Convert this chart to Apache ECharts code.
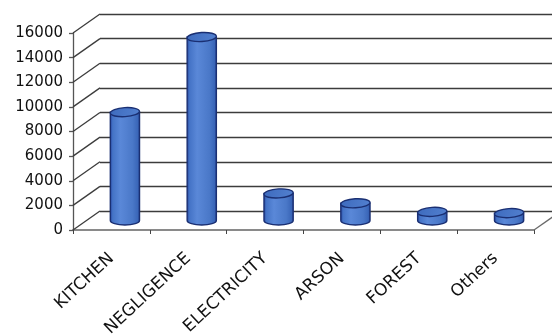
<!DOCTYPE html>
<html>
<head>
<meta charset="utf-8">
<script src="https://cdn.jsdelivr.net/npm/echarts@6/dist/echarts.min.js"></script>
<style>
  html, body { margin: 0; padding: 0; background: #ffffff; }
  #chart { width: 552px; height: 336px; }
</style>
</head>
<body>
<div id="chart"></div>
<script>
// Fire causes and their counts
const categories = ['KITCHEN', 'NEGLIGENCE', 'ELECTRICITY', 'ARSON', 'FOREST', 'Others'];
const fireCounts = [8800, 14900, 2200, 1400, 700, 600];
// Value axis ticks (also used for the side-wall lines)
const yTicks = [0, 2000, 4000, 6000, 8000, 10000, 12000, 14000, 16000];

// Depth of the pseudo-3D box (back wall offset from the front plane)
const DEPTH_X = 27;
const DEPTH_Y = -19;

const FONT = '"DejaVu Sans", "Liberation Sans", Arial, sans-serif';
const WALL_LINE = '#3c3c3c';

const chart = echarts.init(document.getElementById('chart'), null, { renderer: 'canvas' });

// Diagonal lines of the left side wall, one per value tick
function renderSideWall(params, api) {
  const p = api.coord([0, api.value(1)]);
  const half = api.size([1, 0])[0] / 2;
  const x = p[0] - half;
  return {
    type: 'line',
    shape: { x1: x, y1: p[1], x2: x + DEPTH_X, y2: p[1] + DEPTH_Y },
    style: { stroke: WALL_LINE, lineWidth: 1.3 }
  };
}

// Right edge of the floor
function renderFloorEdge(params, api) {
  const p = api.coord([api.value(0), 0]);
  const half = api.size([1, 0])[0] / 2;
  const x = p[0] + half;
  return {
    type: 'line',
    shape: { x1: x, y1: p[1], x2: x + DEPTH_X, y2: p[1] + DEPTH_Y },
    style: { stroke: '#6a6a6a', lineWidth: 1.3 }
  };
}

// Cylinder columns placed halfway into the box depth
function renderCylinder(params, api) {
  const idx = api.value(0);
  const base = api.coord([idx, 0]);
  const top = api.coord([idx, api.value(1)]);
  const bw = api.size([1, 0])[0];
  const rx = bw * 0.19;
  const ry = 4.5;
  const cx = base[0] + DEPTH_X / 2;
  const by = base[1] + DEPTH_Y / 2;
  const ty = top[1] + DEPTH_Y / 2;
  const body = 'M ' + (cx - rx) + ' ' + ty +
    ' L ' + (cx - rx) + ' ' + by +
    ' A ' + rx + ' ' + ry + ' 0 0 0 ' + (cx + rx) + ' ' + by +
    ' L ' + (cx + rx) + ' ' + ty + ' Z';
  return {
    type: 'group',
    children: [
      {
        type: 'path',
        shape: { pathData: body },
        style: {
          fill: {
            type: 'linear', x: 0, y: 0, x2: 1, y2: 0,
            colorStops: [
              { offset: 0, color: '#22409a' },
              { offset: 0.1, color: '#4473c6' },
              { offset: 0.35, color: '#5a88d8' },
              { offset: 0.75, color: '#4a78c8' },
              { offset: 0.92, color: '#3a66b8' },
              { offset: 1, color: '#213e8e' }
            ]
          },
          stroke: '#1a2f72',
          lineWidth: 1.4
        }
      },
      {
        type: 'ellipse',
        shape: { cx: cx, cy: ty, rx: rx, ry: ry },
        originX: cx,
        originY: ty,
        rotation: 0.06,
        style: {
          fill: {
            type: 'linear', x: 0, y: 0, x2: 1, y2: 1,
            colorStops: [
              { offset: 0, color: '#3d6abd' },
              { offset: 1, color: '#5381d0' }
            ]
          },
          stroke: '#1a2f72',
          lineWidth: 1.4
        }
      }
    ]
  };
}

const option = {
  animation: false,
  backgroundColor: '#ffffff',
  grid: [
    { left: 73, right: 18, top: 33, bottom: 106, containLabel: false, outerBoundsMode: 'none' },
    {
      left: 73 + DEPTH_X, right: 18 - DEPTH_X, top: 33 + DEPTH_Y, bottom: 106 - DEPTH_Y,
      containLabel: false, outerBoundsMode: 'none'
    }
  ],
  xAxis: [
    {
      type: 'category',
      gridIndex: 0,
      data: categories,
      boundaryGap: true,
      axisLine: { show: true, lineStyle: { color: '#8a8a8a', width: 2 } },
      axisTick: { show: true, length: 4, lineStyle: { color: '#444444', width: 1 } },
      axisLabel: {
        rotate: 43,
        margin: 26,
        interval: 0,
        color: '#111111',
        fontFamily: FONT,
        fontSize: 17
      },
      splitLine: { show: false }
    },
    {
      type: 'category',
      gridIndex: 1,
      data: categories,
      show: false
    }
  ],
  yAxis: [
    {
      type: 'value',
      gridIndex: 0,
      min: 0,
      max: 16000,
      interval: 2000,
      axisLine: { show: true, lineStyle: { color: '#555555', width: 1.3 } },
      axisTick: { show: true, length: 4, lineStyle: { color: '#555555', width: 1.3 } },
      axisLabel: {
        margin: 10,
        color: '#111111',
        fontFamily: FONT,
        fontSize: 15,
        formatter: function (v) { return String(v); }
      },
      splitLine: { show: false }
    },
    {
      type: 'value',
      gridIndex: 1,
      min: 0,
      max: 16000,
      interval: 2000,
      axisLine: { show: false },
      axisTick: { show: false },
      axisLabel: { show: false },
      splitLine: { show: true, lineStyle: { color: WALL_LINE, width: 1.4 } }
    }
  ],
  series: [
    {
      name: 'sideWall',
      type: 'custom',
      xAxisIndex: 0,
      yAxisIndex: 0,
      clip: false,
      silent: true,
      data: yTicks.map(function (v) { return [0, v]; }),
      encode: { x: 0, y: 1 },
      renderItem: renderSideWall
    },
    {
      name: 'floorEdge',
      type: 'custom',
      xAxisIndex: 0,
      yAxisIndex: 0,
      clip: false,
      silent: true,
      data: [[categories.length - 1, 0]],
      encode: { x: 0, y: 1 },
      renderItem: renderFloorEdge
    },
    {
      name: 'Fires',
      type: 'custom',
      xAxisIndex: 0,
      yAxisIndex: 0,
      clip: false,
      data: fireCounts.map(function (v, i) { return [i, v]; }),
      encode: { x: 0, y: 1 },
      renderItem: renderCylinder
    }
  ]
};

chart.setOption(option);
</script>
</body>
</html>
